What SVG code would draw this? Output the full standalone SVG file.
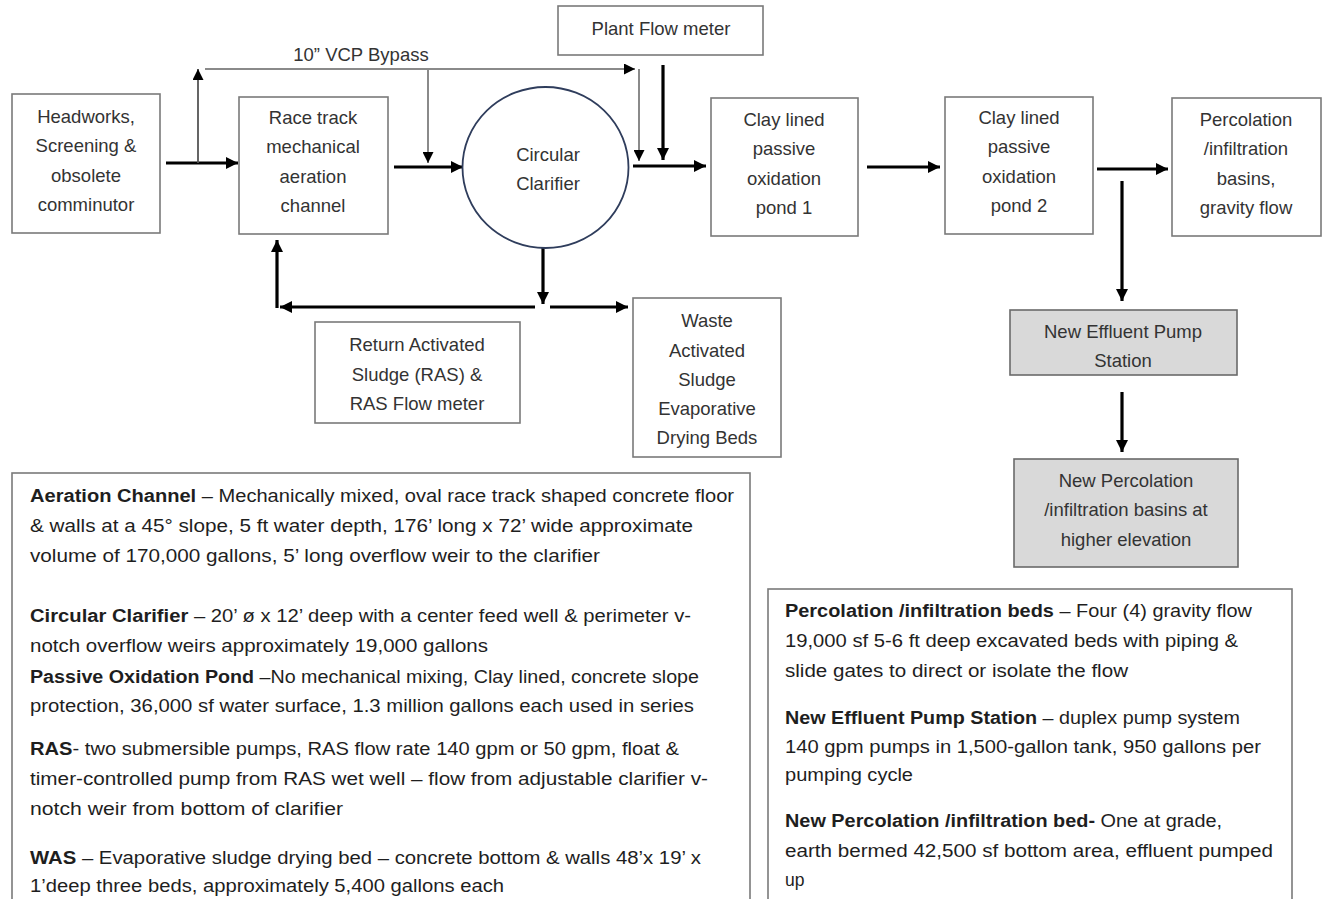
<svg xmlns="http://www.w3.org/2000/svg" width="1327" height="899" viewBox="0 0 1327 899">
<defs>
<style>
.box{fill:#fff;stroke:#7a7a7a;stroke-width:1.6}
.gbox{fill:#d9d9d9;stroke:#6a6a6a;stroke-width:1.6}
.t{font-family:"Liberation Sans",Arial,sans-serif;font-size:18.5px;fill:#333;text-anchor:middle}
.p{font-family:"Liberation Sans",Arial,sans-serif;font-size:17.5px;fill:#1e1e1e}
.b{font-weight:bold}
.thick{stroke:#000;stroke-width:3.2;fill:none}
.thin{stroke:#8a8a8a;stroke-width:2;fill:none}
.thind{stroke:#555;stroke-width:1.8;fill:none}
</style>
<marker id="ah" viewBox="0 0 12 12" refX="12" refY="6" markerWidth="12" markerHeight="12" markerUnits="userSpaceOnUse" orient="auto"><path d="M0,0 L12,6 L0,12 z" fill="#000"/></marker>
<marker id="ahs" viewBox="0 0 10 10" refX="10" refY="5" markerWidth="11" markerHeight="11" markerUnits="userSpaceOnUse" orient="auto"><path d="M0,0 L10,5 L0,10 z" fill="#000"/></marker>
</defs>
<rect width="1327" height="899" fill="#fff"/>

<g id="connectors">
<line class="thick" x1="166" y1="163" x2="238" y2="163" marker-end="url(#ah)"/>
<line class="thind" x1="198" y1="163" x2="198" y2="69" marker-end="url(#ahs)"/>
<line class="thin" x1="205" y1="69" x2="635" y2="69" marker-end="url(#ahs)"/>
<line class="thin" x1="428" y1="69" x2="428" y2="163" marker-end="url(#ahs)"/>
<line class="thick" x1="394" y1="167" x2="463" y2="167" marker-end="url(#ah)"/>
<line class="thick" x1="633" y1="166" x2="706" y2="166" marker-end="url(#ah)"/>
<line class="thin" x1="639" y1="69" x2="639" y2="161" marker-end="url(#ahs)"/>
<line class="thick" x1="663" y1="65" x2="663" y2="160" marker-end="url(#ah)"/>
<line class="thick" x1="867" y1="167" x2="940" y2="167" marker-end="url(#ah)"/>
<line class="thick" x1="1097" y1="169" x2="1168" y2="169" marker-end="url(#ah)"/>
<line class="thick" x1="1122" y1="181" x2="1122" y2="301" marker-end="url(#ah)"/>
<line class="thick" x1="1122" y1="392" x2="1122" y2="452" marker-end="url(#ah)"/>
<line class="thick" x1="543" y1="215" x2="543" y2="304" marker-end="url(#ah)"/>
<line class="thick" x1="535" y1="307" x2="280" y2="307" marker-end="url(#ah)"/>
<line class="thick" x1="277" y1="308" x2="277" y2="240" marker-end="url(#ah)"/>
<line class="thick" x1="550" y1="307" x2="628" y2="307" marker-end="url(#ah)"/>
<text class="t" x="361" y="61">10” VCP Bypass</text>
</g>

<g id="headworks">
<rect class="box" x="12" y="94" width="148" height="139"/>
<text class="t" x="86" y="123">Headworks,</text>
<text class="t" x="86" y="152">Screening &amp;</text>
<text class="t" x="86" y="182">obsolete</text>
<text class="t" x="86" y="211">comminutor</text>
</g>

<g id="racetrack">
<rect class="box" x="239" y="97" width="149" height="137"/>
<text class="t" x="313" y="124">Race track</text>
<text class="t" x="313" y="153">mechanical</text>
<text class="t" x="313" y="183">aeration</text>
<text class="t" x="313" y="212">channel</text>
</g>

<g id="clarifier">
<ellipse cx="545.5" cy="167.5" rx="83" ry="80.5" fill="#fff" stroke="#2f3d5c" stroke-width="1.8"/>
<text class="t" x="548" y="161">Circular</text>
<text class="t" x="548" y="190">Clarifier</text>
</g>

<g id="flowmeter">
<rect class="box" x="558" y="6" width="205" height="49"/>
<text class="t" x="661" y="35">Plant Flow meter</text>
</g>

<g id="pond1">
<rect class="box" x="711" y="98" width="147" height="138"/>
<text class="t" x="784" y="126">Clay lined</text>
<text class="t" x="784" y="155">passive</text>
<text class="t" x="784" y="185">oxidation</text>
<text class="t" x="784" y="214">pond 1</text>
</g>

<g id="pond2">
<rect class="box" x="945" y="97" width="148" height="137"/>
<text class="t" x="1019" y="124">Clay lined</text>
<text class="t" x="1019" y="153">passive</text>
<text class="t" x="1019" y="183">oxidation</text>
<text class="t" x="1019" y="212">pond 2</text>
</g>

<g id="percolation">
<rect class="box" x="1172" y="98" width="149" height="138"/>
<text class="t" x="1246" y="126">Percolation</text>
<text class="t" x="1246" y="155">/infiltration</text>
<text class="t" x="1246" y="185">basins,</text>
<text class="t" x="1246" y="214">gravity flow</text>
</g>

<g id="pumpstation">
<rect class="gbox" x="1010" y="310" width="227" height="65"/>
<text class="t" x="1123" y="338">New Effluent Pump</text>
<text class="t" x="1123" y="367">Station</text>
</g>

<g id="newperc">
<rect class="gbox" x="1014" y="459" width="224" height="108"/>
<text class="t" x="1126" y="487">New Percolation</text>
<text class="t" x="1126" y="516">/infiltration basins at</text>
<text class="t" x="1126" y="546">higher elevation</text>
</g>

<g id="ras">
<rect class="box" x="315" y="322" width="205" height="101"/>
<text class="t" x="417" y="351">Return Activated</text>
<text class="t" x="417" y="381">Sludge (RAS) &amp;</text>
<text class="t" x="417" y="410">RAS Flow meter</text>
</g>

<g id="was">
<rect class="box" x="633" y="298" width="148" height="159"/>
<text class="t" x="707" y="327">Waste</text>
<text class="t" x="707" y="357">Activated</text>
<text class="t" x="707" y="386">Sludge</text>
<text class="t" x="707" y="415">Evaporative</text>
<text class="t" x="707" y="444">Drying Beds</text>
</g>

<g id="notes-left">
<rect class="box" x="12" y="473" width="738" height="450"/>
<text class="p" x="30" y="502" textLength="704" lengthAdjust="spacingAndGlyphs"><tspan class="b">Aeration Channel</tspan> – Mechanically mixed, oval race track shaped concrete floor</text>
<text class="p" x="30" y="532" textLength="663" lengthAdjust="spacingAndGlyphs">&amp; walls at a 45° slope, 5 ft water depth, 176’  long x 72’ wide approximate</text>
<text class="p" x="30" y="562" textLength="570" lengthAdjust="spacingAndGlyphs">volume of 170,000 gallons, 5’ long overflow weir to the clarifier</text>
<text class="p" x="30" y="622" textLength="661" lengthAdjust="spacingAndGlyphs"><tspan class="b">Circular Clarifier</tspan> – 20’ ø x 12’ deep with a center feed well &amp; perimeter v-</text>
<text class="p" x="30" y="652" textLength="458" lengthAdjust="spacingAndGlyphs">notch overflow weirs approximately 19,000 gallons</text>
<text class="p" x="30" y="683" textLength="669" lengthAdjust="spacingAndGlyphs"><tspan class="b">Passive Oxidation Pond</tspan> –No mechanical mixing, Clay lined, concrete slope</text>
<text class="p" x="30" y="712" textLength="664" lengthAdjust="spacingAndGlyphs">protection, 36,000 sf water surface, 1.3 million gallons each used in series</text>
<text class="p" x="30" y="755" textLength="649" lengthAdjust="spacingAndGlyphs"><tspan class="b">RAS</tspan>- two submersible pumps, RAS flow rate 140 gpm or 50 gpm, float &amp;</text>
<text class="p" x="30" y="785" textLength="678" lengthAdjust="spacingAndGlyphs">timer-controlled pump from RAS wet well – flow from adjustable clarifier v-</text>
<text class="p" x="30" y="815" textLength="313" lengthAdjust="spacingAndGlyphs">notch weir from bottom of clarifier</text>
<text class="p" x="30" y="864" textLength="671" lengthAdjust="spacingAndGlyphs"><tspan class="b">WAS</tspan> – Evaporative sludge drying bed – concrete bottom &amp; walls  48’x 19’ x</text>
<text class="p" x="30" y="892" textLength="474" lengthAdjust="spacingAndGlyphs">1’deep three beds, approximately 5,400 gallons each</text>
</g>

<g id="notes-right">
<rect class="box" x="768" y="589" width="524" height="330"/>
<text class="p" x="785" y="617" textLength="467" lengthAdjust="spacingAndGlyphs"><tspan class="b">Percolation /infiltration beds</tspan> – Four (4) gravity flow</text>
<text class="p" x="785" y="647" textLength="453" lengthAdjust="spacingAndGlyphs">19,000 sf 5-6 ft deep excavated beds with piping &amp;</text>
<text class="p" x="785" y="677" textLength="343" lengthAdjust="spacingAndGlyphs">slide gates to direct or isolate the flow</text>
<text class="p" x="785" y="724" textLength="455" lengthAdjust="spacingAndGlyphs"><tspan class="b">New Effluent Pump Station</tspan> – duplex pump system</text>
<text class="p" x="785" y="753" textLength="476" lengthAdjust="spacingAndGlyphs">140 gpm pumps in 1,500-gallon tank, 950 gallons per</text>
<text class="p" x="785" y="781" textLength="128" lengthAdjust="spacingAndGlyphs">pumping cycle</text>
<text class="p" x="785" y="827" textLength="437" lengthAdjust="spacingAndGlyphs"><tspan class="b">New Percolation /infiltration bed-</tspan> One at grade,</text>
<text class="p" x="785" y="857" textLength="488" lengthAdjust="spacingAndGlyphs">earth bermed 42,500 sf bottom area, effluent pumped</text>
<text class="p" x="785" y="886">up</text>
</g>
</svg>
